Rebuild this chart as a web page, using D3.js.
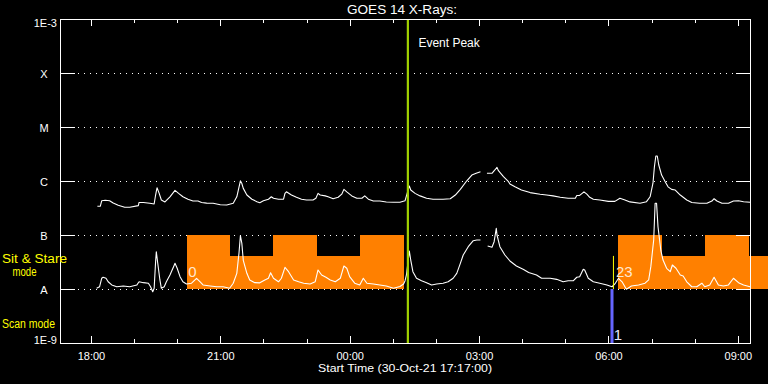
<!DOCTYPE html>
<html><head><meta charset="utf-8">
<script src="https://cdn.jsdelivr.net/npm/d3@7"></script>
<style>
html,body{margin:0;padding:0;background:#000;}
svg{display:block;background:#000;}
text{font-family:"Liberation Sans",Arial,sans-serif;}
</style></head><body>
<svg id="c" width="768" height="384"></svg>
<script>
// ---------- data ----------
const plotStart = "17:17";   // 30-Oct-21
const plotEnd = "09:17";     // 31-Oct-21
const yLevels = [1e-8, 1e-7, 1e-6, 1e-5, 1e-4];
const yLevelLabels = ["A", "B", "C", "M", "X"];
const yEndLabels = ["1E-9", "1E-3"];
const titleText = "GOES 14 X-Rays:";
const xTitle = "Start Time (30-Oct-21 17:17:00)";

// GOES long channel (1-8 A), W/m^2
const longChannel = [
["18:09",3.4e-7],["18:13",3.4e-7],["18:15",4.3e-7],["18:20",4.4e-7],["18:26",4.3e-7],["18:31",3.9e-7],
["18:38",3.55e-7],["18:47",3.26e-7],["18:54",3.26e-7],["19:06",3.5e-7],["19:07",4.0e-7],["19:13",4.0e-7],
["19:22",3.86e-7],["19:28",3.75e-7],["19:30",5.5e-7],["19:32",7.5e-7],["19:35",5.9e-7],["19:38",4.45e-7],
["19:43",4.1e-7],["19:50",5.1e-7],["19:57",6.7e-7],["20:02",5.9e-7],["20:08",5.1e-7],["20:15",4.6e-7],
["20:22",4.26e-7],["20:29",4.26e-7],["20:34",4.0e-7],["20:41",3.9e-7],["20:50",3.86e-7],["21:00",3.64e-7],
["21:09",3.6e-7],["21:18",3.86e-7],["21:23",5.1e-7],["21:28",1.01e-6],["21:30",9.0e-7],["21:32",7.3e-7],
["21:37",5.5e-7],["21:44",4.6e-7],["21:51",4.14e-7],["21:55",3.97e-7],["22:00",4.3e-7],["22:07",4.6e-7],
["22:11",5.1e-7],["22:14",4.8e-7],["22:21",4.6e-7],["22:28",4.6e-7],["22:30",5.9e-7],["22:32",6.3e-7],
["22:39",5.5e-7],["22:46",5.0e-7],["22:53",4.6e-7],["23:00",4.45e-7],["23:09",4.45e-7],["23:13",4.8e-7],
["23:16",5.9e-7],["23:19",5.5e-7],["23:26",5.3e-7],["23:30",5.1e-7],["23:37",4.7e-7],["23:44",5.0e-7],
["23:49",5.7e-7],["23:52",7.0e-7],["23:56",6.3e-7],["00:03",5.3e-7],["00:10",4.8e-7],["00:17",4.8e-7],
["00:21",5.3e-7],["00:26",4.6e-7],["00:33",4.26e-7],["00:42",4.26e-7],["00:51",4.08e-7],["01:01",4.03e-7],
["01:10",4.03e-7],["01:17",4.3e-7],["01:23",8.1e-7],["01:25",6.8e-7],["01:31",5.9e-7],["01:38",5.3e-7],
["01:47",4.8e-7],["01:56",4.6e-7],["02:10",4.6e-7],["02:20",4.7e-7],["02:27",5.5e-7],["02:34",7.0e-7],
["02:43",1.01e-6],["02:50",1.29e-6],["02:56",1.39e-6],["03:02",1.49e-6],["03:06",null],["03:11",1.39e-6],
["03:18",1.39e-6],["03:22",1.6e-6],["03:25",1.79e-6],["03:27",1.55e-6],["03:34",1.2e-6],["03:41",9.7e-7],
["03:43",8.8e-7],["03:50",7.8e-7],["03:59",6.8e-7],["04:11",6.1e-7],["04:25",5.7e-7],["04:34",5.5e-7],
["04:43",5.3e-7],["04:53",5.0e-7],["05:04",4.8e-7],["05:14",4.8e-7],["05:16",5.4e-7],["05:20",5.4e-7],
["05:26",6.3e-7],["05:30",5.7e-7],["05:34",5.0e-7],["05:39",4.6e-7],["05:48",4.45e-7],["06:00",4.2e-7],
["06:09",4.2e-7],["06:16",4.8e-7],["06:23",4.45e-7],["06:30",4.1e-7],["06:44",3.86e-7],["06:53",4.14e-7],
["06:58",5.1e-7],["07:02",9.1e-7],["07:04",1.84e-6],["07:06",2.9e-6],["07:08",2.9e-6],["07:10",2.0e-6],
["07:14",1.29e-6],["07:19",9.7e-7],["07:23",7.8e-7],["07:28",7.0e-7],["07:33",6.8e-7],["07:40",5.5e-7],
["07:49",4.45e-7],["07:56",4.0e-7],["08:07",3.86e-7],["08:17",3.86e-7],["08:24",4.26e-7],["08:27",4.7e-7],
["08:31",4.26e-7],["08:38",3.86e-7],["08:47",3.86e-7],["08:54",4.26e-7],["09:01",4.3e-7],["09:08",4.14e-7],
["09:17",4.03e-7]
];

// GOES short channel (0.5-4 A), W/m^2
const shortChannel = [
["18:08",1.03e-8],["18:12",1.10e-8],["18:15",1.58e-8],["18:17",1.65e-8],["18:21",1.58e-8],["18:24",1.36e-8],
["18:29",1.19e-8],["18:36",1.10e-8],["18:45",1.14e-8],["18:54",1.10e-8],["19:04",1.19e-8],["19:07",1.36e-8],
["19:13",1.31e-8],["19:20",1.28e-8],["19:23",1.10e-8],["19:26",0.89e-8],["19:28",1.03e-8],["19:30",3.2e-8],
["19:31",4.9e-8],["19:33",3.0e-8],["19:36",1.47e-8],["19:38",1.03e-8],["19:42",1.10e-8],["19:45",1.36e-8],
["19:50",1.82e-8],["19:55",2.59e-8],["19:57",3.0e-8],["20:00",2.42e-8],["20:04",1.69e-8],["20:08",1.36e-8],
["20:13",1.24e-8],["20:20",1.28e-8],["20:27",1.58e-8],["20:32",1.36e-8],["20:36",1.19e-8],["20:46",1.14e-8],
["20:55",1.10e-8],["21:04",1.10e-8],["21:13",1.03e-8],["21:18",1.28e-8],["21:23",1.95e-8],["21:26",4.6e-8],
["21:28",9.8e-8],["21:30",7.0e-8],["21:32",3.4e-8],["21:37",1.95e-8],["21:41",1.47e-8],["21:48",1.31e-8],
["21:55",1.3e-8],["22:02",1.47e-8],["22:07",1.58e-8],["22:10",2.0e-8],["22:14",1.58e-8],["22:21",1.36e-8],
["22:25",1.58e-8],["22:30",2.52e-8],["22:35",2.09e-8],["22:42",1.47e-8],["22:49",1.36e-8],["22:56",1.28e-8],
["23:05",1.24e-8],["23:12",1.36e-8],["23:16",2.25e-8],["23:21",1.82e-8],["23:27",1.65e-8],["23:33",1.47e-8],
["23:40",1.36e-8],["23:47",1.58e-8],["23:52",2.67e-8],["23:56",2.42e-8],["00:00",1.69e-8],["00:07",1.28e-8],
["00:14",1.19e-8],["00:19",1.58e-8],["00:24",1.28e-8],["00:33",1.24e-8],["00:42",1.19e-8],["00:51",1.14e-8],
["01:01",1.03e-8],["01:10",1.11e-8],["01:15",1.24e-8],["01:17",1.41e-8],["01:19",1.82e-8],["01:23",5.05e-8],
["01:25",3.44e-8],["01:28",2.09e-8],["01:33",1.58e-8],["01:40",1.42e-8],["01:47",1.31e-8],["01:54",1.19e-8],
["02:01",1.24e-8],["02:10",1.28e-8],["02:17",1.36e-8],["02:24",1.58e-8],["02:29",1.95e-8],["02:34",2.99e-8],
["02:38",4.26e-8],["02:45",6.07e-8],["02:52",7.84e-8],["02:57",8.08e-8],["03:02",8.08e-8],["03:06",null],
["03:12",6.26e-8],["03:18",5.92e-8],["03:21",7.52e-8],["03:24",1.33e-7],["03:25",1.0e-7],["03:29",6.07e-8],
["03:36",4.26e-8],["03:43",3.3e-8],["03:52",2.67e-8],["04:02",2.3e-8],["04:09",2.02e-8],["04:20",1.82e-8],
["04:27",1.58e-8],["04:39",1.58e-8],["04:48",1.51e-8],["04:57",1.36e-8],["05:04",1.42e-8],["05:11",1.42e-8],
["05:16",1.65e-8],["05:20",1.69e-8],["05:25",2.32e-8],["05:27",2.25e-8],["05:32",1.58e-8],["05:39",1.36e-8],
["05:48",1.28e-8],["05:58",1.19e-8],["06:05",1.10e-8],["06:09",1.24e-8],["06:14",1.58e-8],["06:19",1.36e-8],
["06:25",0.99e-8],["06:32",1.14e-8],["06:42",1.19e-8],["06:51",1.28e-8],["06:56",1.47e-8],["06:59",2.59e-8],
["07:03",8.08e-8],["07:05",3.86e-7],["07:07",3.86e-7],["07:09",1.42e-7],["07:13",5.12e-8],["07:16",3.44e-8],
["07:21",2.42e-8],["07:26",2.09e-8],["07:29",2.78e-8],["07:34",2.42e-8],["07:40",1.82e-8],["07:44",1.74e-8],
["07:49",1.36e-8],["07:56",1.10e-8],["08:03",1.10e-8],["08:10",1.28e-8],["08:14",1.10e-8],["08:21",1.19e-8],
["08:27",1.65e-8],["08:33",1.19e-8],["08:40",1.14e-8],["08:47",1.19e-8],["08:54",1.58e-8],["09:01",1.31e-8],
["09:08",1.19e-8],["09:17",1.10e-8]
];

// observing-mode blocks: [start, end, top level]; base is class A (1e-8)
const modeBlocks = [
["20:14","21:14",1e-7],["21:14","22:14",4.1e-8],["22:14","23:14",1e-7],["23:14","00:14",4.1e-8],
["00:14","01:15",1e-7],["06:13","07:14",1e-7],["07:14","08:14",4.1e-8],["08:14","09:15",1e-7],
["09:15","10:15",4.1e-8]
];
const blockBase = 1e-8;
const eventPeak = "01:21";
const scanMarker = ["06:05", 1e-9, 1e-8];
const stareMarker = ["06:07", 1e-8, 4.1e-8];
const blockLabels = [["20:14","0"],["06:09","23"]];
const scanLabel = ["06:06","1"];

// ---------- helpers ----------
function T(s){const [h,m]=s.split(":").map(Number);return new Date(Date.UTC(2021,9,h>=12?30:31,h,m));}

const svg = d3.select("#c");
const L=60, R=750, TOP=19, BOT=343;
const x = d3.scaleUtc().domain([T(plotStart), T(plotEnd)]).range([L, R]);
const y = d3.scaleLog().domain([1e-9, 1e-3]).range([BOT, TOP]);

// dotted grid
svg.append("g").selectAll("line").data(yLevels).join("line")
  .attr("x1", 78).attr("x2", 734)
  .attr("y1", d=>Math.round(y(d))+0.5).attr("y2", d=>Math.round(y(d))+0.5)
  .attr("stroke","#fff").attr("stroke-width",1).attr("stroke-dasharray","1,5")
  .attr("shape-rendering","crispEdges");

// mode blocks
svg.append("g").selectAll("rect").data(modeBlocks).join("rect")
  .attr("x", d=>x(T(d[0]))).attr("width", d=>x(T(d[1]))-x(T(d[0])))
  .attr("y", d=>y(d[2])).attr("height", d=>y(blockBase)-y(d[2]))
  .attr("fill","#ff8000").attr("shape-rendering","crispEdges");

// light curves
const line = d3.line().defined(d=>d[1]!=null).x(d=>x(T(d[0]))).y(d=>y(d[1]));
[longChannel, shortChannel].forEach(s=>{
  svg.append("path").attr("d", line(s)).attr("fill","none")
    .attr("stroke","#fff").attr("stroke-width",1.1).attr("stroke-linejoin","round");
});

// markers
svg.append("line").attr("x1",x(T(eventPeak))).attr("x2",x(T(eventPeak)))
  .attr("y1",TOP).attr("y2",BOT).attr("stroke","#a0d000").attr("stroke-width",2.2);
svg.append("line").attr("x1",x(T(scanMarker[0]))).attr("x2",x(T(scanMarker[0])))
  .attr("y1",y(scanMarker[1])).attr("y2",y(scanMarker[2])).attr("stroke","#6666ff").attr("stroke-width",3);
svg.append("line").attr("x1",x(T(stareMarker[0]))).attr("x2",x(T(stareMarker[0])))
  .attr("y1",y(stareMarker[1])).attr("y2",y(stareMarker[2])).attr("stroke","#ffff00").attr("stroke-width",1);

// block labels
svg.append("g").selectAll("text").data(blockLabels).join("text")
  .attr("x", d=>x(T(d[0]))+1).attr("y", 277)
  .attr("font-size",15).style("fill","#ffe8d0")
  .text(d=>d[1]);
svg.append("text").attr("x", x(T(scanLabel[0]))+1).attr("y", 340)
  .attr("font-size",15).style("fill","#e8e8ff").text(scanLabel[1]);

// frame and axes
const frame = svg.append("g").attr("shape-rendering","crispEdges");
frame.append("rect").attr("x",L+0.5).attr("y",TOP+0.5).attr("width",R-L).attr("height",BOT-TOP)
  .attr("fill","none").attr("stroke","#fff");

const hours = d3.utcHour.every(1), hours3 = d3.utcHour.every(3);
function styleAxis(g){g.select(".domain").remove();g.selectAll("line").attr("stroke","#fff");g.selectAll("text").style("fill","#fff").attr("font-family","Liberation Sans, Arial, sans-serif");}
frame.append("g").attr("transform",`translate(0,${BOT})`).call(d3.axisBottom(x).ticks(hours).tickSize(-4).tickFormat("")).call(styleAxis);
frame.append("g").attr("transform",`translate(0,${BOT})`).call(d3.axisBottom(x).ticks(hours3).tickSize(-7).tickPadding(9).tickFormat(d3.utcFormat("%H:%M"))).call(styleAxis)
  .selectAll("text").attr("font-size",11);
frame.append("g").attr("transform",`translate(0,${TOP})`).call(d3.axisTop(x).ticks(hours).tickSize(-4).tickFormat("")).call(styleAxis);
frame.append("g").attr("transform",`translate(0,${TOP})`).call(d3.axisTop(x).ticks(hours3).tickSize(-7).tickFormat("")).call(styleAxis);
frame.append("g").attr("transform",`translate(${L},0)`).call(d3.axisLeft(y).tickValues(yLevels).tickSize(-15).tickFormat("")).call(styleAxis);
frame.append("g").attr("transform",`translate(${R},0)`).call(d3.axisRight(y).tickValues(yLevels).tickSize(-14).tickFormat("")).call(styleAxis);

// y labels
svg.append("g").selectAll("text").data(yLevels).join("text")
  .attr("x",44).attr("y",d=>y(d)+4.5).attr("text-anchor","middle").attr("font-size",11).style("fill","#fff")
  .text((d,i)=>yLevelLabels[i]);
svg.append("text").attr("x",57).attr("y",BOT+0.5).attr("text-anchor","end").attr("font-size",11).style("fill","#fff").text(yEndLabels[0]);
svg.append("text").attr("x",57).attr("y",TOP+7.5).attr("text-anchor","end").attr("font-size",11).style("fill","#fff").text(yEndLabels[1]);

// titles
svg.append("text").attr("x",402).attr("y",14).attr("text-anchor","middle").attr("font-size",12).style("fill","#fff")
  .attr("textLength",110).attr("lengthAdjust","spacingAndGlyphs").text(titleText);
svg.append("text").attr("x",405).attr("y",372).attr("text-anchor","middle").attr("font-size",11).style("fill","#fff")
  .attr("textLength",174).attr("lengthAdjust","spacingAndGlyphs").text(xTitle);
svg.append("text").attr("x",x(T(eventPeak))+10.5).attr("y",47).attr("font-size",12).style("fill","#fff").text("Event Peak");

// mode labels
svg.append("text").attr("x",2).attr("y",262.5).attr("font-size",12).style("fill","#ffff00")
  .attr("textLength",65).attr("lengthAdjust","spacingAndGlyphs").text("Sit & Stare");
svg.append("text").attr("x",24.5).attr("y",275.5).attr("text-anchor","middle").attr("font-size",12).style("fill","#ffff00")
  .attr("textLength",24).attr("lengthAdjust","spacingAndGlyphs").text("mode");
svg.append("text").attr("x",2).attr("y",327.5).attr("font-size",12).style("fill","#ffff00")
  .attr("textLength",53).attr("lengthAdjust","spacingAndGlyphs").text("Scan mode");
</script>
</body></html>
